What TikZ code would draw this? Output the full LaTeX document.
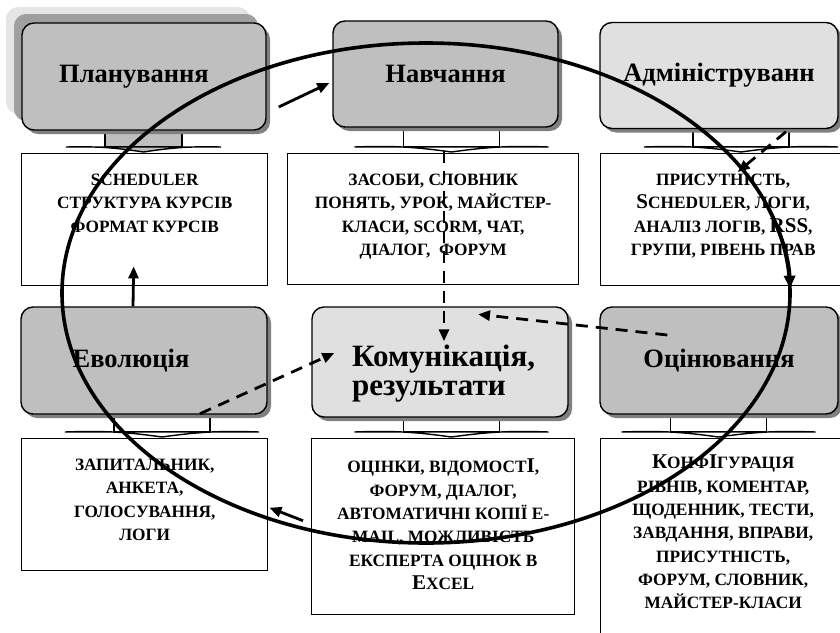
\documentclass[tikz,border=0pt]{standalone}
\usepackage{fontspec}
\setmainfont{Liberation Serif}
\usetikzlibrary{shapes,arrows.meta,positioning,shadows}
\definecolor{headgrey}{gray}{0.75}
\definecolor{headlight}{gray}{0.88}
\definecolor{shadegrey}{gray}{0.5}
\tikzset{%
	headnode/.style={rectangle, rounded corners=12pt, draw=black, line width=1.4pt, fill=headgrey, font=\fontsize{26.5}{30}\selectfont\bfseries, drop shadow={shadow xshift=4pt, shadow yshift=-4pt, fill=shadegrey, opacity=1}},
	headtext/.style={align=left, inner sep=0pt, font=\fontsize{31}{29}\selectfont\bfseries},
	infobox/.style={rectangle, draw=black, line width=1.4pt, fill=white, anchor=north west},
	infotext/.style={align=center, inner sep=0pt, font=\fontsize{17.3}{23.3}\selectfont\bfseries},
	pt/.style={draw=black, line width=2.8pt, -{Triangle[length=12pt,width=10pt]}},
	dpt/.style={pt, dash pattern=on 12pt off 8pt},
	cyc/.style={draw=black, line width=3.6pt}
}
\newcommand\cupper[1]{{\fontsize{21}{23.3}\selectfont #1}}
% stand below a heading: x, y of the flat head, fill, scale
\newcommand\monstand[4]{%
	\filldraw[line width=1.4pt, fill=#3] (#1-48*#4,#2-25) rectangle (#1+48*#4,#2);
	\filldraw[line width=1.4pt, fill=#3] (#1-97*#4,#2) -- (#1+97*#4,#2) to[bend right=5] (#1,#2+5) to[bend right=5] cycle;
}

\begin{document}
\begin{tikzpicture}[x=1pt, y=-1pt]
	\useasboundingbox (0,0) rectangle (840,632);

	\monstand{143.5}{147}{headgrey}{0.8}
	\monstand{451.5}{147}{white}{1}
	\monstand{741}{147}{white}{1}
	\monstand{162}{432}{white}{1}
	\monstand{451.5}{432}{white}{1}
	\monstand{718.5}{432}{white}{1}

	\node[headnode, minimum width=244pt, minimum height=107pt, drop shadow={shadow xshift=-16pt, shadow yshift=16pt, fill=gray!20, opacity=1}, drop shadow={shadow xshift=-8pt, shadow yshift=9pt, fill=gray!75, opacity=1}] (plan) at (144,76.5) {Планування\hspace*{20pt}};
	\node[headnode, minimum width=225pt, minimum height=106pt] (navch) at (445.5,74) {Навчання};
	\node[headnode, fill=headlight, minimum width=238pt, minimum height=106pt] (adm) at (719,75.5) {Адмініструванн};
	\node[headnode, minimum width=246pt, minimum height=107pt] (evol) at (144,360.5) {Еволюція\hspace*{26pt}};
	\node[headnode, fill=headlight, minimum width=256pt, minimum height=110pt] (kom) at (440,362) {};
	\node[headtext, anchor=north west] (komtext) at (352,345) {Комунікація,\\результати};
	\node[headnode, minimum width=238pt, minimum height=107pt] (ocin) at (719,360.5) {Оцінювання};

	\node[infobox, minimum width=246pt, minimum height=132pt] (b1) at (21,153) {};
	\node[infobox, minimum width=291pt, minimum height=131pt] (b2) at (287,153) {};
	\node[infobox, minimum width=245pt, minimum height=132pt] (b3) at (600,153) {};
	\node[infobox, minimum width=246pt, minimum height=132pt] (b4) at (21,438) {};
	\node[infobox, minimum width=263pt, minimum height=176pt] (b5) at (311,438) {};
	\node[infobox, minimum width=245pt, minimum height=220pt] (b6) at (600,438) {};

	\node[infotext, below=21pt of b1.north] (t1) {SCHEDULER\\СТРУКТУРА КУРСІВ\\ФОРМАТ КУРСІВ};
	\node[infotext, below=21pt of b2.north] (t2) {ЗАСОБИ, СЛОВНИК\\ПОНЯТЬ, УРОК, МАЙСТЕР-\\КЛАСИ, SCORM, ЧАТ,\\ДІАЛОГ,\ \ ФОРУМ};
	\node[infotext, below=21pt of b3.north] (t3) {ПРИСУТНІСТЬ,\\\cupper{S}CHEDULER, ЛОГИ,\\АНАЛІЗ ЛОГІВ, \cupper{RSS},\\ГРУПИ, РІВЕНЬ ПРАВ};
	\node[infotext, below=21pt of b4.north] (t4) {ЗАПИТАЛЬНИК,\\АНКЕТА,\\ГОЛОСУВАННЯ,\\ЛОГИ};
	\node[infotext, below=21pt of b5.north] (t5) {ОЦІНКИ, ВІДОМОСТ\cupper{I},\\ФОРУМ, ДІАЛОГ,\\АВТОМАТИЧНІ КОПІЇ E-\\MAIL, МОЖЛИВІСТЬ\\ЕКСПЕРТА ОЦІНОК В\\\cupper{E}XCEL};
	\node[infotext, below=17pt of b6.north] (t6) {\cupper{К}ОНФ\cupper{І}ГУРАЦІЯ\\РІВНІВ, КОМЕНТАР,\\ЩОДЕННИК, ТЕСТИ,\\ЗАВДАННЯ, ВПРАВИ,\\ПРИСУТНІСТЬ,\\ФОРУМ, СЛОВНИК,\\МАЙСТЕР-КЛАСИ};

	% the cycle
	\coordinate (cyc) at (426,293);
	\draw[cyc] (cyc) ellipse [x radius=364, y radius=250];
	\draw[cyc, -{Triangle[length=13pt,width=11pt]}] (cyc) ++(-20:364 and 250) arc[start angle=-20, end angle=-1, x radius=364, y radius=250];

	\draw[pt] ([shift={(12,30.5)}]plan.east) -- ([shift={(-3,9)}]navch.west);
	\draw[pt] ([shift={(-8,-6)}]b5.west) -- ([shift={(1,3)}]b4.east);
	\draw[pt] ([xshift=-11]evol.north) -- ([shift={(-11,-20)}]b1.south);

	\draw[dpt] ([shift={(-1.5,23)}]navch.south) -- ([shift={(4,35)}]kom.north);
	\draw[dpt] ([shift={(67,2.5)}]adm.south) -- ([shift={(14.5,19)}]b3.north);
	\draw[dpt] ([shift={(68,-25.5)}]ocin.west) -- ([shift={(38,8)}]kom.north);
	\draw[dpt] ([shift={(56,-1)}]evol.south) -- ([shift={(23,-9)}]kom.west);
\end{tikzpicture}
\end{document}
